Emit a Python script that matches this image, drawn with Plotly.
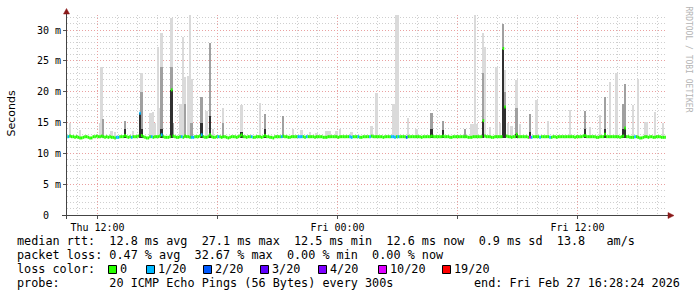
import numpy as np
import pandas as pd
import plotly.graph_objects as go

# ---------------- data ----------------
first_step_end = "2026-02-26 10:30:00"   # end of first 300 s step
view_start = "2026-02-26 10:28:24"
view_end = "2026-02-27 16:28:24"
step_seconds = 300
min_rtt = 12.5                             # lowest ping (ms) -> base of the smoke

# median rtt (ms), one row per hour (12 x 5-minute steps)
median_rows = [
    [12.7, 12.7, 12.8, 12.7, 12.7, 12.6, 12.7, 12.6, 12.5, 12.5, 12.6, 12.7],
    [12.7, 12.6, 12.5, 12.5, 12.7, 12.7, 12.8, 12.7, 12.7, 12.8, 12.7, 12.6],
    [12.7, 12.6, 12.7, 12.6, 12.6, 12.5, 12.6, 12.6, 12.7, 12.7, 12.7, 12.9],
    [12.7, 12.6, 12.7, 12.6, 12.7, 12.7, 12.7, 12.8, 16.5, 12.9, 12.7, 12.6],
    [12.5, 12.5, 12.7, 12.7, 12.6, 12.7, 12.7, 12.7, 12.8, 13.0, 12.7, 12.6],
    [12.6, 12.6, 12.7, 20.3, 12.8, 12.7, 12.6, 12.6, 12.7, 12.7, 12.6, 12.8],
    [12.7, 12.7, 12.6, 12.6, 12.6, 12.7, 12.7, 12.7, 12.8, 13.0, 12.7, 12.6],
    [12.6, 12.7, 13.0, 12.7, 12.6, 12.6, 12.7, 12.7, 12.7, 12.6, 12.7, 12.7],
    [12.6, 12.5, 12.6, 12.7, 12.7, 12.7, 12.6, 12.7, 12.8, 13.0, 12.7, 12.7],
    [12.6, 12.7, 12.7, 12.7, 12.6, 12.6, 12.7, 12.7, 12.7, 12.6, 12.7, 12.9],
    [12.7, 12.7, 12.6, 12.6, 12.5, 12.7, 12.7, 12.7, 12.7, 12.7, 12.8, 12.7],
    [12.7, 12.6, 12.6, 12.7, 12.7, 12.7, 12.7, 12.7, 12.7, 12.7, 12.7, 12.6],
    [12.7, 12.7, 12.7, 12.7, 12.7, 12.6, 12.7, 12.7, 12.7, 12.7, 12.6, 12.6],
    [12.6, 12.7, 12.7, 12.7, 12.7, 12.7, 12.7, 12.6, 12.7, 12.7, 12.7, 12.7],
    [12.7, 12.7, 12.7, 12.6, 12.7, 12.7, 12.7, 12.7, 12.6, 12.6, 12.7, 12.7],
    [12.7, 12.7, 12.7, 12.8, 12.7, 12.7, 12.7, 12.7, 12.7, 12.7, 12.6, 12.7],
    [12.7, 12.7, 12.7, 12.7, 12.7, 12.6, 12.7, 12.7, 12.7, 12.7, 12.7, 12.7],
    [12.6, 12.7, 12.7, 12.7, 12.7, 12.7, 12.7, 12.7, 12.7, 12.6, 12.7, 12.7],
    [12.7, 12.7, 12.7, 12.8, 12.7, 12.7, 12.7, 12.7, 12.7, 12.7, 12.8, 12.7],
    [12.7, 12.7, 12.6, 12.6, 12.7, 12.7, 12.7, 12.7, 12.7, 12.7, 12.7, 12.7],
    [12.7, 12.6, 12.6, 12.6, 12.7, 12.7, 12.7, 12.7, 12.7, 12.7, 15.3, 12.8],
    [12.7, 12.7, 12.7, 12.6, 12.6, 12.7, 12.7, 12.7, 12.7, 12.7, 27.0, 17.5],
    [12.8, 12.7, 12.7, 12.6, 12.7, 12.7, 13.1, 12.7, 12.7, 12.7, 12.7, 12.7],
    [12.7, 12.6, 12.6, 12.6, 12.7, 12.7, 12.7, 12.7, 12.6, 12.7, 12.7, 12.7],
    [12.7, 12.7, 12.6, 12.6, 12.7, 12.7, 12.6, 12.7, 12.7, 12.7, 12.7, 12.7],
    [12.7, 12.7, 12.7, 12.7, 12.7, 12.6, 12.7, 12.7, 12.7, 12.7, 12.8, 12.9],
    [12.7, 12.7, 12.7, 12.7, 12.7, 12.7, 12.6, 12.6, 12.7, 12.7, 12.7, 13.1],
    [12.7, 12.7, 12.7, 12.7, 12.7, 12.7, 12.7, 12.7, 12.6, 12.7, 12.8, 14.1],
    [12.7, 12.7, 12.6, 12.6, 12.6, 12.7, 12.7, 12.6, 12.5, 12.5, 12.6, 12.7],
    [12.7, 12.6, 12.7, 12.7, 12.6, 12.6, 12.7, 12.7, 12.7, 12.6, 12.6, 12.6],
]

# lost pings (out of 20) per step, only steps with loss
loss_steps = [1, 30, 31, 39, 44, 51, 57, 69, 75, 76, 81, 91, 111, 129, 139, 140,
              141, 144, 170, 171, 175, 182, 195, 196, 197, 199, 204, 278, 279,
              284, 290, 341]
loss_counts = [1, 1, 1, 1, 1, 1, 1, 1, 1, 1, 1, 1, 1, 1, 1, 1,
               1, 1, 1, 1, 1, 1, 1, 1, 1, 1, 2, 10, 1,
               1, 1, 1]

# smoke: steps with visible ping spread (ms). max = outer (light),
# mid = inner band (medium grey), dark = innermost band (0 = none)
spike_steps = [2, 8, 20, 21, 22, 27, 29, 35, 40, 44, 45, 50, 51, 52, 53, 55, 56,
               57, 63, 64, 68, 69, 70, 71, 73, 74, 75, 81, 84, 86, 88, 94, 105,
               116, 119, 130, 136, 141, 146, 150, 156, 157, 158, 162, 164, 171,
               183, 186, 196, 197, 198, 199, 205, 210, 219, 226, 239, 243, 244,
               245, 246, 250, 251, 254, 258, 260, 262, 263, 265, 267, 270, 272,
               278, 282, 289, 302, 311, 314, 320, 323, 326, 330, 334, 335, 340,
               343, 347, 348, 353, 358]
spike_max = [15.0, 13.8, 15.0, 24.0, 15.6, 13.6, 13.5, 15.2, 13.6, 16.5, 23.0, 16.5,
             16.6, 16.7, 15.0, 27.2, 17.3, 29.5, 31.9, 15.0, 18.0, 18.0, 28.9,
             22.3, 22.5, 32.5, 22.0, 19.2, 16.8, 27.9, 14.0, 17.3, 17.8, 18.1,
             16.4, 16.0, 14.0, 13.8, 13.5, 13.3, 13.7, 13.7, 13.7, 13.7, 14.0,
             13.5, 14.5, 19.8, 18.0, 18.0, 32.5, 32.5, 15.8, 14.0, 16.6, 15.3,
             14.0, 14.7, 14.7, 32.5, 14.7, 29.5, 27.2, 14.2, 24.0, 15.0, 31.0,
             23.5, 15.0, 14.5, 21.9, 14.8, 16.3, 18.6, 15.2, 17.0, 16.8, 14.3,
             16.2, 19.2, 21.6, 23.1, 18.0, 21.3, 17.8, 22.0, 15.1, 15.1, 16.7,
             15.0]
spike_mid = [0, 0, 0, 0, 15.6, 0, 0, 15.2, 0, 16.5, 20.0, 0,
             0, 0, 0, 0, 0, 24.0, 24.0, 15.0, 0, 0, 0,
             18.0, 0, 0, 15.0, 19.2, 0, 27.9, 0, 15.0, 0, 0,
             16.4, 16.0, 0, 0, 0, 0, 0, 0, 0, 0, 0,
             0, 0, 0, 0, 0, 0, 0, 0, 0, 16.6, 15.3,
             14.0, 0, 0, 0, 0, 23.0, 0, 0, 0, 0, 31.0,
             20.0, 0, 0, 17.3, 0, 16.3, 0, 0, 0, 16.8, 0,
             0, 19.2, 0, 0, 18.0, 21.3, 0, 0, 0, 0, 0,
             0]
spike_dark = [0, 0, 0, 0, 0, 0, 0, 14.0, 0, 16.5, 14.0, 0,
              0, 0, 0, 0, 0, 14.0, 20.3, 0, 0, 0, 0,
              0, 0, 0, 0, 15.0, 0, 16.0, 0, 0, 13.5, 0,
              14.0, 0, 0, 0, 0, 0, 0, 0, 0, 0, 0,
              0, 0, 0, 0, 0, 0, 0, 0, 0, 14.0, 13.8,
              0, 0, 0, 0, 0, 15.3, 0, 0, 0, 0, 27.0,
              17.5, 0, 0, 13.2, 0, 13.5, 0, 0, 0, 14.0, 0,
              0, 14.0, 0, 0, 14.0, 14.1, 0, 0, 0, 0, 0,
              0]

# loss colour legend
loss_thresholds = [0, 1, 2, 3, 4, 10, 19]
loss_labels = ["0", "1/20", "2/20", "3/20", "4/20", "10/20", "19/20"]
loss_colors = ["#26ff00", "#00b8ff", "#0059ff", "#5e00ff", "#7e00ff", "#dd00ff", "#ff0000"]

y_tick_vals = [0, 5, 10, 15, 20, 25, 30]
y_tick_text = ["0\u00a0\u00a0", "5 m", "10 m", "15 m", "20 m", "25 m", "30 m"]

legend_rtt = "median rtt:  12.8 ms avg  27.1 ms max  12.5 ms min  12.6 ms now  0.9 ms sd  13.8   am/s"
legend_loss = "packet loss: 0.47 % avg  32.67 % max  0.00 % min  0.00 % now"
legend_probe = "probe:       20 ICMP Echo Pings (56 Bytes) every 300s"
legend_end = "end: Fri Feb 27 16:28:24 2026"
watermark = "RRDTOOL / TOBI OETIKER"

# ---------------- build ----------------
median = sum(median_rows, [])
n = len(median)
t_end = pd.Timestamp(first_step_end) + pd.to_timedelta(np.arange(n) * step_seconds, unit="s")
t_start = t_end - pd.Timedelta(seconds=step_seconds)
fmt = "%Y-%m-%d %H:%M:%S"

loss = [0] * n
for s, c in zip(loss_steps, loss_counts):
    loss[s] = c


def bucket(v):
    return max(k for k, th in enumerate(loss_thresholds) if v >= th)


# plot area in pixels (for annotations / decorations)
L, R, T, B = 67, 667, 15, 215
W, H = 697, 297


def px(xp):
    return (xp - L) / (R - L)


def py(yp):
    return (B - yp) / (B - T)


mono = "DejaVu Sans Mono"
fig = go.Figure()

ms_step = step_seconds * 1000
layers = [(spike_max, "#dadada"), (spike_mid, "#a0a0a0"), (spike_dark, "#303030")]
for vals, col in layers:
    xs = [t_end[s].strftime(fmt) for s, v in zip(spike_steps, vals) if v > 0]
    hs = [v - min_rtt for v in vals if v > 0]
    fig.add_trace(go.Bar(x=xs, y=hs, base=min_rtt, width=ms_step, offset=-ms_step,
                         marker=dict(color=col, line=dict(width=0)),
                         hoverinfo="skip", showlegend=False))

for b, col in enumerate(loss_colors):
    xs, ys = [], []
    for i in range(n):
        if bucket(loss[i]) == b:
            xs += [t_start[i].strftime(fmt), t_end[i].strftime(fmt), None]
            ys += [median[i], median[i], None]
    if xs:
        fig.add_trace(go.Scatter(x=xs, y=ys, mode="lines",
                                 line=dict(color=col, width=3),
                                 hoverinfo="skip", showlegend=False))

grid_minor = "#cfcfcf"
grid_major = "#eaa0a0"
dash = "1px,2px"

fig.update_layout(
    width=W, height=H,
    margin=dict(l=L, r=W - R, t=T, b=H - B, autoexpand=False),
    paper_bgcolor="white", plot_bgcolor="white",
    barmode="overlay", bargap=0, showlegend=False,
    font=dict(family=mono, size=10, color="black"),
    xaxis=dict(
        type="date", range=[view_start, view_end], automargin=False,
        tickmode="linear", tick0="2026-02-26 00:00:00", dtick=6 * 3600 * 1000,
        ticklabelstep=2, tickformat="%a %H:%M",
        showgrid=True, gridcolor=grid_major, griddash=dash, gridwidth=1,
        ticks="outside", ticklen=3, tickcolor="#555",
        tickfont=dict(family=mono, size=10, color="black"),
        minor=dict(tickmode="linear", tick0="2026-02-26 00:00:00", dtick=3600 * 1000,
                   showgrid=True, gridcolor=grid_minor, griddash=dash, gridwidth=1),
        showline=False, zeroline=False,
    ),
    yaxis=dict(
        range=[0, (B - T) / 6.1667], automargin=False,
        tickmode="array", tickvals=y_tick_vals, ticktext=y_tick_text,
        showgrid=True, gridcolor=grid_major, griddash=dash, gridwidth=1,
        ticks="outside", ticklen=3, tickcolor="#555",
        tickfont=dict(family=mono, size=10, color="black"),
        minor=dict(tickmode="linear", tick0=0, dtick=1,
                   showgrid=True, gridcolor=grid_minor, griddash=dash, gridwidth=1),
        showline=False, zeroline=False,
    ),
)

axis_col = "#444444"
arrow_col = "#8b1a1a"
shapes = [
    dict(type="line", xref="paper", yref="paper", x0=px(66.5), x1=px(66.5),
         y0=py(219), y1=py(11), line=dict(color=axis_col, width=1), layer="above"),
    dict(type="line", xref="paper", yref="paper", x0=px(62), x1=px(669),
         y0=py(215.5), y1=py(215.5), line=dict(color=axis_col, width=1), layer="above"),
    dict(type="path", xref="paper", yref="paper",
         path=f"M {px(63.5)},{py(14)} L {px(69.5)},{py(14)} L {px(66.5)},{py(8.5)} Z",
         fillcolor=arrow_col, line=dict(color=arrow_col, width=0.5), layer="above"),
    dict(type="path", xref="paper", yref="paper",
         path=f"M {px(668)},{py(212.5)} L {px(668)},{py(218.5)} L {px(674)},{py(215.5)} Z",
         fillcolor=arrow_col, line=dict(color=arrow_col, width=0.5), layer="above"),
]

legend_font = dict(family=mono, size=11.8, color="black")
nb = lambda s: s.replace(" ", "\u00a0")
annotations = [
    dict(text="Seconds", x=px(11), y=py(113.5), xref="paper", yref="paper",
         xanchor="center", yanchor="middle",
         textangle=-90, showarrow=False, font=dict(family="DejaVu Sans", size=11, color="black")),
    dict(text=nb(watermark), x=px(687.5), y=py(59), xref="paper", yref="paper",
         xanchor="center", yanchor="middle",
         textangle=90, showarrow=False, font=dict(family=mono, size=8, color="#b4b4b4")),
    dict(text=nb(legend_rtt), x=px(15), y=py(241), xref="paper", yref="paper",
         xanchor="left", yanchor="middle", showarrow=False, font=legend_font),
    dict(text=nb(legend_loss), x=px(15), y=py(255), xref="paper", yref="paper",
         xanchor="left", yanchor="middle", showarrow=False, font=legend_font),
    dict(text=nb("loss color:"), x=px(15), y=py(269), xref="paper", yref="paper",
         xanchor="left", yanchor="middle", showarrow=False, font=legend_font),
    dict(text=nb(legend_probe), x=px(15), y=py(283), xref="paper", yref="paper",
         xanchor="left", yanchor="middle", showarrow=False, font=legend_font),
    dict(text=nb(legend_end), x=px(682), y=py(283), xref="paper", yref="paper",
         xanchor="right", yanchor="middle", showarrow=False, font=legend_font),
]

box_x = [108.5, 146.5, 203.5, 260.5, 318.5, 378.5, 442.5]
for bx, lab, col in zip(box_x, loss_labels, loss_colors):
    shapes.append(dict(type="rect", xref="paper", yref="paper",
                       x0=px(bx), x1=px(bx + 8), y0=py(273.5), y1=py(265.5),
                       fillcolor=col, line=dict(color="black", width=1), layer="above"))
    annotations.append(dict(text=lab, x=px(bx + 9), y=py(269), xref="paper", yref="paper",
                            xanchor="left", yanchor="middle", showarrow=False,
                            font=legend_font))

fig.update_layout(shapes=shapes, annotations=annotations)
fig.write_html("out.html", config={"displayModeBar": False})
